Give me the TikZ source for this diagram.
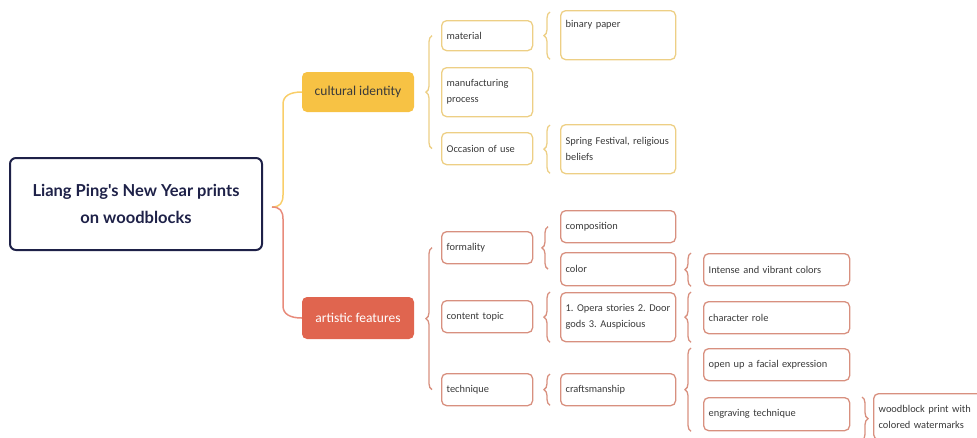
\documentclass[tikz,border=0pt]{standalone}
\usepackage{fontspec}
\setmainfont{Carlito}
\newfontfamily\rootfont{Lato}
\usetikzlibrary{decorations.pathreplacing}
\definecolor{navy}{HTML}{1E2148}
\definecolor{gold}{HTML}{F7C244}
\definecolor{goldline}{HTML}{EDCF85}
\definecolor{coral}{HTML}{E0654F}
\definecolor{coralline}{HTML}{D8907F}
\definecolor{ink}{HTML}{3A3A3A}
\frenchspacing

\begin{document}
\begin{tikzpicture}[x=1pt,y=-1pt,
  leaf/.style={rounded corners=5pt,line width=1.3pt,anchor=north west,align=left,
    inner xsep=5pt,inner ysep=2pt,text=ink,font=\fontsize{10.4}{16}\selectfont},
  yleaf/.style={leaf,draw=goldline},
  rleaf/.style={leaf,draw=coralline},
  wa/.style={minimum width=91pt,text width=81pt},
  wb/.style={minimum width=115pt,text width=105pt},
  wc/.style={minimum width=146pt,text width=136pt},
  ybr/.style={draw=goldline,line width=1.3pt,decorate,decoration={brace,amplitude=6pt}},
  rbr/.style={draw=coralline,line width=1.3pt,decorate,decoration={brace,amplitude=6pt}}]
\useasboundingbox (0,0) rectangle (977,437);
% root and main branches
\node[draw=navy,line width=2pt,rounded corners=6pt,minimum width=252pt,minimum height=92pt,
  align=center,text=navy,font=\rootfont\bfseries\fontsize{16.5}{27}\selectfont] (root) at (136,204)
  {Liang Ping's New Year prints\\on woodblocks};
\node[fill=gold,rounded corners=5pt,minimum width=112pt,minimum height=40pt,text=ink,
  font=\fontsize{13.5}{15}\selectfont] (cult) at (358,92) {cultural identity};
\node[fill=coral,rounded corners=5pt,minimum width=112pt,minimum height=42pt,text=white,
  font=\fontsize{13.5}{15}\selectfont] (art) at (358,318) {artistic features};
\coordinate (tip) at (272,207);
\draw[gold!80!white,line width=1.5pt] (tip) .. controls (280,207) and (283,203) .. (283,195)
  -- (283,104) .. controls (283,96) and (290,92) .. (cult.west);
\draw[coral!75,line width=1.5pt] (tip) .. controls (280,207) and (283,211) .. (283,219)
  -- (283,306) .. controls (283,314) and (290,318) .. (art.west);
% cultural identity
\node[yleaf,wa,minimum height=30pt] (mat) at (441,20) {material};
\node[yleaf,wa,minimum height=49pt] (proc) at (441,67) {manufacturing\\process};
\node[yleaf,wa,minimum height=32pt] (occ) at (441,132) {Occasion of use};
\node[yleaf,wb,minimum height=49pt,text depth=22pt] (bin) at (560,10) {binary paper};
\node[yleaf,wb,minimum height=49pt] (fest) at (560,124) {\mbox{Spring Festival, religious}\\beliefs};
\draw[ybr] ([xshift=-9]occ.west) -- ([xshift=-9]mat.west);
\draw[ybr] ([xshift=-10,yshift=1]bin.south west) -- ([xshift=-10,yshift=-2]bin.north west);
\draw[ybr] ([xshift=-10,yshift=1]fest.south west) -- ([xshift=-10,yshift=-1]fest.north west);
% artistic features
\node[rleaf,wa,minimum height=32pt] (form) at (441,231) {formality};
\node[rleaf,wa,minimum height=32pt] (topic) at (441,300) {content topic};
\node[rleaf,wa,minimum height=32pt] (tech) at (441,373) {technique};
\node[rleaf,wb,minimum height=32pt] (comp) at (560,210) {composition};
\node[rleaf,wb,minimum height=33pt] (col) at (560,252) {color};
\node[rleaf,wb,minimum height=49pt] (opera) at (560,292) {\mbox{1. Opera stories 2. Door}\\gods 3. Auspicious};
\node[rleaf,wb,minimum height=32pt] (craft) at (560,373) {craftsmanship};
\node[rleaf,wc,minimum height=32pt] (vivid) at (703,253) {Intense and vibrant colors};
\node[rleaf,wc,minimum height=32pt] (role) at (703,301) {character role};
\node[rleaf,wc,minimum height=32pt] (face) at (703,348) {open up a facial expression};
\node[rleaf,wc,minimum height=33pt] (engr) at (703,397) {engraving technique};
\node[rleaf,wb,minimum height=46pt] (print) at (873,393) {woodblock print with\\colored watermarks};
\draw[rbr] ([xshift=-9]tech.west) -- ([xshift=-9]form.west);
\draw[rbr] ([xshift=-12]col.west) -- ([xshift=-12]comp.west);
\draw[rbr] ([xshift=-10]opera.south west) -- ([xshift=-10]opera.north west);
\draw[rbr] ([xshift=-10,yshift=1]craft.south west) -- ([xshift=-10,yshift=-1]craft.north west);
\draw[rbr] ([xshift=-12]vivid.south west) -- ([xshift=-12]vivid.north west);
\draw[rbr] ([xshift=-12]role.west |- opera.south) -- ([xshift=-12]role.west |- opera.north);
\draw[rbr] ([xshift=-12]engr.south west) -- ([xshift=-12]face.north west);
\draw[rbr] ([xshift=-11]print.west |- engr.north) -- ([xshift=-11]print.south west);
\end{tikzpicture}
\end{document}
